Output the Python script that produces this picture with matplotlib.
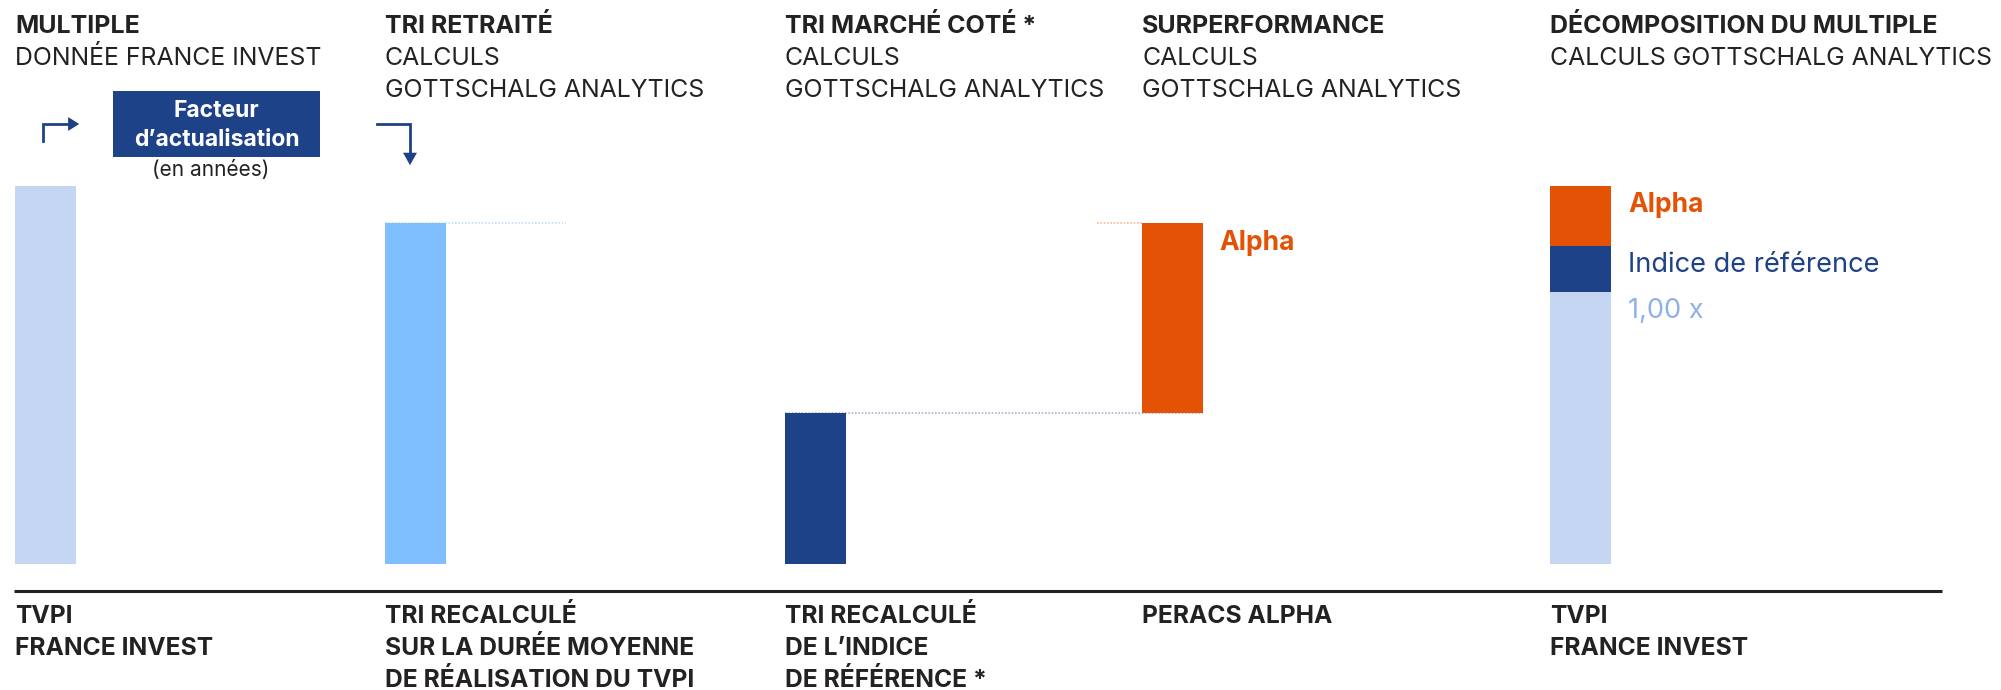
import matplotlib
matplotlib.use("Agg")
import matplotlib.pyplot as plt
from matplotlib.patches import Rectangle, FancyArrowPatch

# ---------------- data (schematic values, 1.00 x = reference) ----------------
categories = ["TVPI France Invest", "TRI recalculé", "TRI indice de référence",
              "PERACS Alpha", "TVPI décomposé"]
tvpi = 1.39
tri_retraite = 1.255
tri_indice = 0.555
alpha_bottom = tri_indice
alpha_top = tri_retraite
decomp_base = 1.00
decomp_indice = 0.17
decomp_alpha = 0.22

headers_bold = ["MULTIPLE", "TRI RETRAITÉ", "TRI MARCHÉ COTÉ *", "SURPERFORMANCE",
                "DÉCOMPOSITION DU MULTIPLE"]
headers_sub = [["DONNÉE FRANCE INVEST"],
               ["CALCULS", "GOTTSCHALG ANALYTICS"],
               ["CALCULS", "GOTTSCHALG ANALYTICS"],
               ["CALCULS", "GOTTSCHALG ANALYTICS"],
               ["CALCULS GOTTSCHALG ANALYTICS"]]
bottom_labels = [["TVPI", "FRANCE INVEST"],
                 ["TRI RECALCULÉ", "SUR LA DURÉE MOYENNE", "DE RÉALISATION DU TVPI"],
                 ["TRI RECALCULÉ", "DE L’INDICE", "DE RÉFÉRENCE *"],
                 ["PERACS ALPHA"],
                 ["TVPI", "FRANCE INVEST"]]
legend_labels = ["Alpha", "Indice de référence", "1,00 x"]

# ---------------- style ----------------
W, H = 2001, 690
PALE = "#c5d6f2"
SKY = "#80bfff"
NAVY = "#1e4288"
ORANGE = "#e35205"
LIGHTTXT = "#8fb1ea"
DARK = "#222222"
FONT = "Inter"

BAR_LEFT = [15, 385, 785, 1142, 1550]   # px
BAR_W = 61
BASE_PX = 564
UNIT_PX = 272  # px for 1.00 x

fig = plt.figure(figsize=(W / 100, H / 100), dpi=100)
fig.patch.set_facecolor("white")

ax = fig.add_axes([0, 0, 1, 1])
ax.set_xlim(0, W)
ax.set_ylim((BASE_PX - H) / UNIT_PX, BASE_PX / UNIT_PX)
ax.axis("off")

ov = fig.add_axes([0, 0, 1, 1], zorder=5)
ov.set_xlim(0, W)
ov.set_ylim(H, 0)
ov.axis("off")
ov.patch.set_alpha(0)


def bar(i, bottom, top, color):
    ax.bar(BAR_LEFT[i], top - bottom, bottom=bottom, width=BAR_W, align="edge",
           color=color, linewidth=0)


bar(0, 0, tvpi, PALE)
bar(1, 0, tri_retraite, SKY)
bar(2, 0, tri_indice, NAVY)
bar(3, alpha_bottom, alpha_top, ORANGE)
bar(4, 0, decomp_base, PALE)
bar(4, decomp_base, decomp_base + decomp_indice, NAVY)
bar(4, decomp_base + decomp_indice, decomp_base + decomp_indice + decomp_alpha, ORANGE)

dot = (0, (1, 1))
ax.hlines(tri_retraite, BAR_LEFT[1], 566, colors="#c9ddf6", linestyles=dot, linewidth=1.2, zorder=0)
ax.hlines(tri_indice, BAR_LEFT[2], BAR_LEFT[3] + BAR_W, colors="#aab4d0", linestyles=dot, linewidth=1.2, zorder=0)
ax.hlines(alpha_top, 1097, BAR_LEFT[3], colors="#f3b998", linestyles=dot, linewidth=1.2, zorder=0)

# baseline rule
ov.plot([14, 1942], [591, 591], color=DARK, linewidth=2.2, solid_capstyle="butt")


def txt(x, y, s, **kw):
    ov.text(x, y, s, fontfamily=FONT, va="baseline", **kw)


# headers
for i in range(5):
    txt(BAR_LEFT[i], 33, headers_bold[i], fontsize=18, fontweight="bold", color=DARK)
    for j, line in enumerate(headers_sub[i]):
        txt(BAR_LEFT[i], 65 + 32 * j, line, fontsize=17.9, color=DARK)

# bottom labels
for i in range(5):
    for j, line in enumerate(bottom_labels[i]):
        txt(BAR_LEFT[i], 623 + 32 * j, line, fontsize=17.7, fontweight="bold", color=DARK)

# labels next to bars
txt(1219, 250, "Alpha", fontsize=19, fontweight="bold", color=ORANGE)
txt(1628, 212, legend_labels[0], fontsize=19, fontweight="bold", color=ORANGE)
txt(1628, 272, legend_labels[1], fontsize=19.6, color=NAVY)
txt(1628, 318, legend_labels[2], fontsize=19.6, color=LIGHTTXT)

# discount factor box
ov.add_patch(Rectangle((113, 91), 207, 66, facecolor=NAVY, edgecolor="none"))
ov.text(216.5, 117, "Facteur", fontfamily=FONT, fontsize=16.5, fontweight="bold",
        color="white", ha="center", va="baseline")
ov.text(216.5, 146, "d’actualisation", fontfamily=FONT, fontsize=16.5, fontweight="bold",
        color="white", ha="center", va="baseline")
ov.text(211, 176, "(en années)", fontfamily=FONT, fontsize=15, color=DARK,
        ha="center", va="baseline")

# arrows
ov.plot([43, 43, 72], [141, 124, 124], color=NAVY, linewidth=2, solid_joinstyle="miter")
ov.add_patch(FancyArrowPatch((70, 124), (82, 124), arrowstyle="-|>,head_length=8,head_width=5",
                             color=NAVY, linewidth=0, mutation_scale=1))
ov.plot([377, 410, 410], [124, 124, 156], color=NAVY, linewidth=2, solid_joinstyle="miter")
ov.add_patch(FancyArrowPatch((410, 154), (410, 168), arrowstyle="-|>,head_length=9,head_width=5",
                             color=NAVY, linewidth=0, mutation_scale=1))

fig.savefig("out.png", dpi=100, facecolor="white")
